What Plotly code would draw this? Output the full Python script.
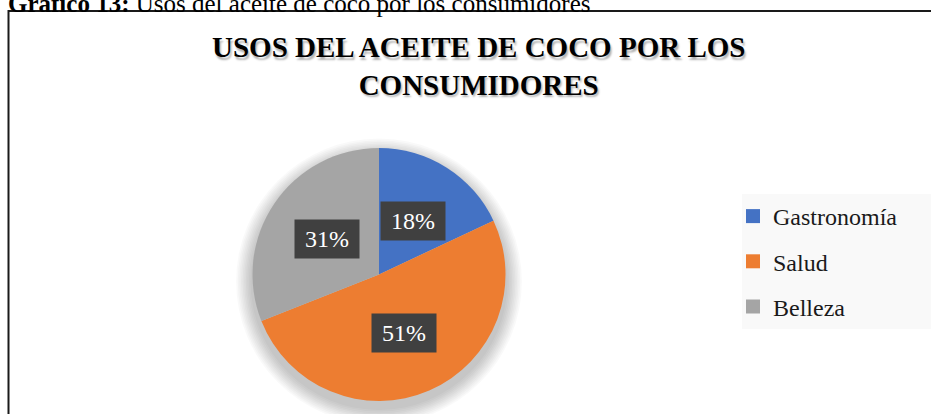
import math
import plotly.graph_objects as go

W, H = 931, 414

categories = ["Gastronomía", "Salud", "Belleza"]
values = [18, 51, 31]
colors = ["#4472C4", "#ED7D31", "#A5A5A5"]
title_text = "USOS DEL ACEITE DE COCO POR LOS<br>CONSUMIDORES"
caption_bold = "Gráfico 13:"
caption_rest = " Usos del aceite de coco por los consumidores"

SERIF = "Liberation Serif, serif"

# pie geometry in pixels
cx, cy, R = 379.0, 274.5, 126.5

def px(x):
    return x / W

def py(y):
    return 1 - y / H

fig = go.Figure()

fig.add_trace(go.Pie(
    labels=categories,
    values=values,
    marker=dict(colors=colors, line=dict(width=0)),
    sort=False,
    direction="clockwise",
    rotation=0,
    textinfo="none",
    hoverinfo="skip",
    showlegend=False,
    domain=dict(x=[px(cx - R), px(cx + R)], y=[py(cy + R), py(cy - R)]),
))

# legend entries
for i, (c, col) in enumerate(zip(categories, colors)):
    fig.add_trace(go.Scatter(
        x=[None], y=[None], mode="markers", name=c,
        marker=dict(symbol="square", size=14, color=col),
        legendgroup=c, showlegend=True, hoverinfo="skip",
    ))

shapes = []
# soft shadow behind pie
for k in range(10):
    rr = R + 2 + 1.6 * k
    oy = 7
    shapes.append(dict(
        type="circle", xref="paper", yref="paper", layer="below",
        x0=px(cx - rr), x1=px(cx + rr), y0=py(cy + oy + rr), y1=py(cy + oy - rr),
        fillcolor="rgba(0,0,0,0.022)", line=dict(width=0),
    ))
# legend background
shapes.append(dict(
    type="rect", xref="paper", yref="paper", layer="below",
    x0=px(742), x1=px(935), y0=py(329), y1=py(194),
    fillcolor="#f9f9f9", line=dict(width=0),
))
# chart border
shapes.append(dict(
    type="rect", xref="paper", yref="paper", layer="above",
    x0=px(8.5), x1=px(940), y0=py(420), y1=py(11),
    fillcolor="rgba(0,0,0,0)", line=dict(color="#1a1a1a", width=2),
))

annotations = []
total = sum(values)
cum = 0
for v in values:
    mid = (cum + v / 2) / total * 2 * math.pi
    cum += v
    lx = cx + 0.5 * R * math.sin(mid)
    ly = cy - 0.5 * R * math.cos(mid)
    annotations.append(dict(
        x=px(lx), y=py(ly), xref="paper", yref="paper",
        text=f"{round(v / total * 100)}%", showarrow=False,
        font=dict(family=SERIF, size=24, color="white"),
        bgcolor="#404040", width=64, height=38, borderpad=0,
        xanchor="center", yanchor="middle",
    ))

# caption (cut off at the top, as in the source)
annotations.append(dict(
    x=px(6), y=py(19), xref="paper", yref="paper",
    xanchor="left", yanchor="bottom", showarrow=False,
    text=f"<b>{caption_bold}</b>{caption_rest}",
    font=dict(family=SERIF, size=25, color="black"),
))

# title with soft text shadow
annotations.append(dict(
    x=px(478), y=py(29), xref="paper", yref="paper",
    xanchor="center", yanchor="top", showarrow=False,
    text=f"<b>{title_text}</b>",
    font=dict(family=SERIF, size=29, color="black",
              shadow="1.5px 2.5px 2px rgba(0,0,0,0.3)"),
))

fig.update_layout(
    width=W, height=H,
    margin=dict(l=0, r=0, t=0, b=0),
    paper_bgcolor="white", plot_bgcolor="rgba(0,0,0,0)",
    xaxis=dict(visible=False), yaxis=dict(visible=False),
    legend=dict(
        x=px(733), y=py(194), xanchor="left", yanchor="top",
        bgcolor="rgba(0,0,0,0)", traceorder="grouped", tracegroupgap=11,
        font=dict(family=SERIF, size=24, color="#1a1a1a"),
        itemclick=False, itemdoubleclick=False,
    ),
    shapes=shapes,
    annotations=annotations,
)

fig.write_html("out.html")
